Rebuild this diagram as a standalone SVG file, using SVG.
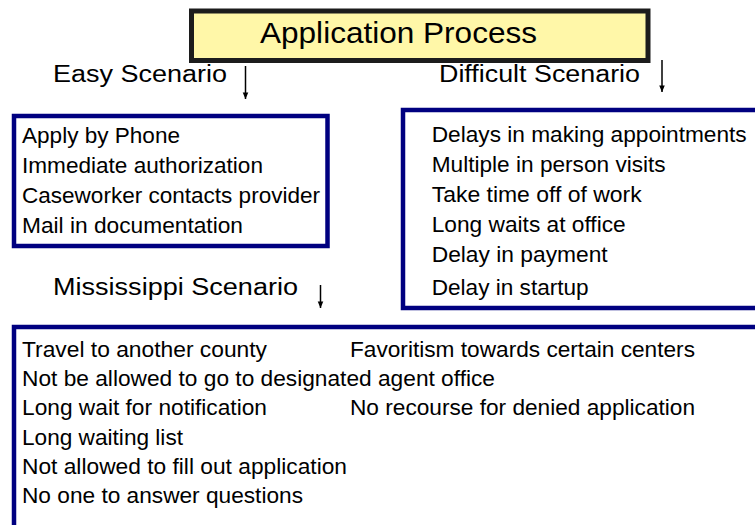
<svg xmlns="http://www.w3.org/2000/svg" width="755" height="525" viewBox="0 0 755 525">
  <style>
    text { font-family: "Liberation Sans", Arial, sans-serif; fill: #000; }
    .title { font-size: 29px; }
    .label { font-size: 23.5px; }
    .item { font-size: 21.5px; }
    .box { fill: #fff; stroke: #000080; stroke-width: 4.5; }
    .arrow { stroke: #000; stroke-width: 1.5; fill: none; marker-end: url(#head); }
  </style>
  <defs>
    <marker id="head" viewBox="0 0 8 10" refX="8" refY="5" markerWidth="8" markerHeight="8" markerUnits="userSpaceOnUse" orient="auto">
      <path d="M0,1.5 L8,5 L0,8.5 Z" fill="#000"/>
    </marker>
  </defs>
  <rect width="755" height="525" fill="#fff"/>

  <g id="title">
    <rect x="191.5" y="11" width="456.5" height="49.5" fill="#FFF7A8" stroke="#1c1c1c" stroke-width="5"/>
    <text class="title" x="260" y="43" textLength="277" lengthAdjust="spacingAndGlyphs">Application Process</text>
  </g>

  <g id="easy-label">
    <text class="label" x="53" y="82" textLength="174" lengthAdjust="spacingAndGlyphs">Easy Scenario</text>
  </g>
  <g id="difficult-label">
    <text class="label" x="439" y="82" textLength="201" lengthAdjust="spacingAndGlyphs">Difficult Scenario</text>
  </g>
  <g id="mississippi-label">
    <text class="label" x="53" y="295" textLength="245" lengthAdjust="spacingAndGlyphs">Mississippi Scenario</text>
  </g>

  <g id="easy-box">
    <rect class="box" x="14" y="116" width="313.5" height="130"/>
    <text class="item" x="22" y="142.5" textLength="158" lengthAdjust="spacingAndGlyphs">Apply by Phone</text>
    <text class="item" x="22" y="172.7" textLength="241" lengthAdjust="spacingAndGlyphs">Immediate authorization</text>
    <text class="item" x="22" y="202.8" textLength="298" lengthAdjust="spacingAndGlyphs">Caseworker contacts provider</text>
    <text class="item" x="22" y="233" textLength="221" lengthAdjust="spacingAndGlyphs">Mail in documentation</text>
  </g>

  <g id="difficult-box">
    <rect class="box" x="403" y="110" width="370" height="198"/>
    <text class="item" x="431.7" y="141.7" textLength="315" lengthAdjust="spacingAndGlyphs">Delays in making appointments</text>
    <text class="item" x="431.7" y="171.7" textLength="234" lengthAdjust="spacingAndGlyphs">Multiple in person visits</text>
    <text class="item" x="431.7" y="201.7" textLength="210" lengthAdjust="spacingAndGlyphs">Take time off of work</text>
    <text class="item" x="431.7" y="231.7" textLength="194" lengthAdjust="spacingAndGlyphs">Long waits at office</text>
    <text class="item" x="431.7" y="261.5" textLength="176" lengthAdjust="spacingAndGlyphs">Delay in payment</text>
    <text class="item" x="431.7" y="295" textLength="157" lengthAdjust="spacingAndGlyphs">Delay in startup</text>
  </g>

  <g id="mississippi-box">
    <rect class="box" x="14" y="327" width="760" height="220"/>
    <text class="item" x="22" y="356.7" textLength="245" lengthAdjust="spacingAndGlyphs">Travel to another county</text>
    <text class="item" x="350" y="356.7" textLength="345" lengthAdjust="spacingAndGlyphs">Favoritism towards certain centers</text>
    <text class="item" x="22" y="386" textLength="473" lengthAdjust="spacingAndGlyphs">Not be allowed to go to designated agent office</text>
    <text class="item" x="22" y="415.3" textLength="245" lengthAdjust="spacingAndGlyphs">Long wait for notification</text>
    <text class="item" x="350" y="415.3" textLength="345" lengthAdjust="spacingAndGlyphs">No recourse for denied application</text>
    <text class="item" x="22" y="445" textLength="161" lengthAdjust="spacingAndGlyphs">Long waiting list</text>
    <text class="item" x="22" y="474" textLength="325" lengthAdjust="spacingAndGlyphs">Not allowed to fill out application</text>
    <text class="item" x="22" y="503.3" textLength="281" lengthAdjust="spacingAndGlyphs">No one to answer questions</text>
  </g>

  <g id="connectors">
    <line class="arrow" x1="245.5" y1="66" x2="245.5" y2="99"/>
    <line class="arrow" x1="662" y1="60" x2="662" y2="92"/>
    <line class="arrow" x1="320.5" y1="285" x2="320.5" y2="308"/>
  </g>
</svg>
